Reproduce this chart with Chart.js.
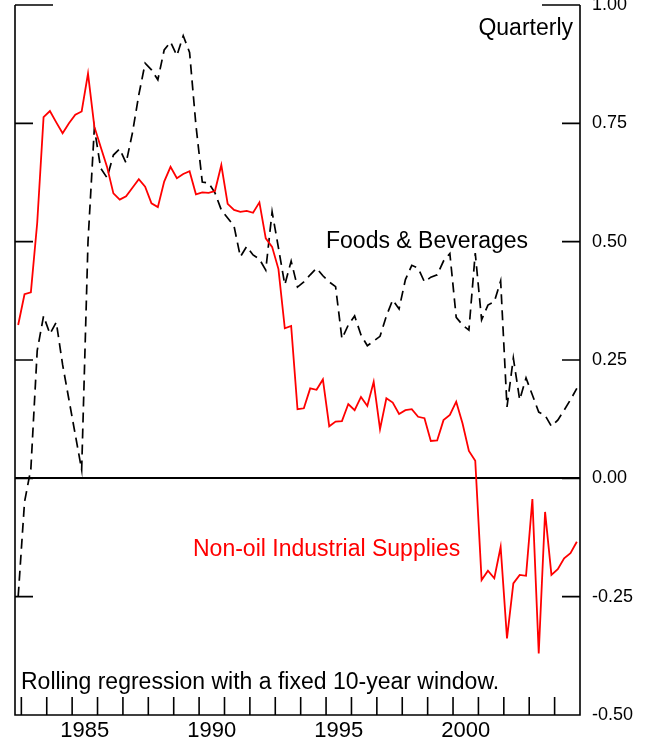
<!DOCTYPE html>
<html><head><meta charset="utf-8">
<script src="https://cdn.jsdelivr.net/npm/chart.js@4"></script>
<style>html,body{margin:0;padding:0;background:#fff;overflow:hidden}canvas{display:block}</style>
</head><body>
<canvas id="c" width="653" height="745"></canvas>
<script>
// Quarterly observations 1982Q4 .. 2004Q4
const quarters = [];
for (let y = 1982; y <= 2004; y++) for (let q = 1; q <= 4; q++) { if (y === 1982 && q < 4) continue; quarters.push(y + 'Q' + q); }

const nonOilIndustrialSupplies = [
 0.324,0.389,0.393,0.54,0.763,0.776,0.752,0.729,0.75,0.768,
 0.775,0.855,0.743,0.70,0.658,0.602,0.589,0.596,0.614,0.632,
 0.616,0.581,0.573,0.627,0.658,0.634,0.643,0.649,0.600,0.604,
 0.603,0.607,0.662,0.580,0.567,0.563,0.565,0.561,0.583,0.507,
 0.489,0.442,0.317,0.322,0.146,0.148,0.190,0.187,0.209,0.110,
 0.120,0.121,0.157,0.144,0.172,0.153,0.204,0.104,0.169,0.160,
 0.136,0.144,0.146,0.130,0.127,0.079,0.080,0.123,0.134,0.162,
 0.116,0.058,0.037,-0.215,-0.195,-0.211,-0.145,-0.338,-0.222,-0.204,
 -0.206,-0.044,-0.370,-0.071,-0.204,-0.192,-0.169,-0.158,-0.134
];
const foodsBeverages = [
 -0.25,-0.05,0.02,0.27,0.343,0.305,0.33,0.24,0.166,0.092,
 0.018,0.50,0.74,0.655,0.635,0.683,0.696,0.666,0.73,0.81,
 0.877,0.863,0.842,0.905,0.922,0.893,0.935,0.90,0.746,0.626,
 0.624,0.603,0.567,0.55,0.533,0.468,0.49,0.472,0.463,0.44,
 0.563,0.487,0.409,0.459,0.404,0.415,0.43,0.444,0.428,0.415,
 0.405,0.295,0.324,0.343,0.303,0.28,0.29,0.30,0.343,0.377,
 0.358,0.42,0.45,0.444,0.415,0.425,0.43,0.459,0.475,0.34,
 0.324,0.313,0.476,0.335,0.366,0.373,0.417,0.151,0.254,0.166,
 0.212,0.176,0.14,0.133,0.11,0.123,0.144,0.166,0.19
];
const yTickValues = [-0.5, -0.25, 0, 0.25, 0.5, 0.75, 1.0];
const yearLabels = [1985, 1990, 1995, 2000];
const yearTicks = [1983,1984,1985,1986,1987,1988,1989,1990,1991,1992,1993,1994,1995,1996,1997,1998,1999,2000,2001,2002,2003,2004];

function quarterToTime(s) { const y = +s.slice(0,4), q = +s.slice(5); return y + (q - 0.5) / 4; }
const times = quarters.map(quarterToTime);
const toPoints = arr => arr.map((v, i) => ({ x: times[i], y: v }));

const FONT = '"Liberation Sans", Arial, Helvetica, sans-serif';

const framePlugin = {
  id: 'frame',
  beforeDatasetsDraw(chart) {
    const { ctx, chartArea: a, scales: { x, y } } = chart;
    ctx.save();
    ctx.strokeStyle = '#000';
    ctx.lineWidth = 2;
    const y0 = Math.round(y.getPixelForValue(0));
    ctx.beginPath(); ctx.moveTo(a.left, y0); ctx.lineTo(a.right, y0); ctx.stroke();
    ctx.restore();
  },
  afterDatasetsDraw(chart) {
    const { ctx, chartArea: a, scales: { x, y } } = chart;
    ctx.save();
    ctx.strokeStyle = '#000';
    ctx.lineWidth = 1.6;
    ctx.beginPath();
    ctx.moveTo(a.left, a.top); ctx.lineTo(a.left, a.bottom); ctx.lineTo(a.right, a.bottom); ctx.lineTo(a.right, a.top);
    ctx.stroke();
    // y ticks (inward, both sides)
    yTickValues.forEach(v => {
      if (v === -0.5) return;
      const py = y.getPixelForValue(v);
      const len = v === 1.0 ? 38 : 18;
      ctx.beginPath();
      ctx.moveTo(a.left, py); ctx.lineTo(a.left + len, py);
      ctx.moveTo(a.right, py); ctx.lineTo(a.right - len, py);
      ctx.stroke();
    });
    // x ticks (inward)
    yearTicks.forEach(t => {
      const px = x.getPixelForValue(t);
      ctx.beginPath(); ctx.moveTo(px, a.bottom); ctx.lineTo(px, a.bottom - 18); ctx.stroke();
    });
    // annotations
    ctx.font = '23px ' + FONT;
    ctx.textBaseline = 'alphabetic';
    ctx.fillStyle = '#000';
    ctx.textAlign = 'right';
    ctx.fillText('Quarterly', 573, 35);
    ctx.textAlign = 'left';
    ctx.fillText('Foods & Beverages', 326, 248);
    ctx.fillText('Rolling regression with a fixed 10-year window.', 21, 689);
    ctx.fillStyle = '#ff0000';
    ctx.fillText('Non-oil Industrial Supplies', 193, 556);
    ctx.restore();
  }
};

new Chart(document.getElementById('c'), {
  type: 'line',
  data: {
    datasets: [
      { label: 'Non-oil Industrial Supplies', data: toPoints(nonOilIndustrialSupplies), borderColor: '#ff0000', borderWidth: 1.8, pointRadius: 0, tension: 0, fill: false },
      { label: 'Foods & Beverages', data: toPoints(foodsBeverages), borderColor: '#000000', borderWidth: 1.7, borderDash: [10, 6], pointRadius: 0, tension: 0, fill: false }
    ]
  },
  options: {
    responsive: false,
    devicePixelRatio: 1,
    animation: false,
    layout: { padding: { left: 15, top: 5, right: 0, bottom: 0 } },
    plugins: { legend: { display: false }, tooltip: { enabled: false } },
    scales: {
      x: {
        type: 'linear', position: 'bottom', min: 1982.75, max: 2005,
        grid: { display: false, drawTicks: false }, border: { display: false },
        afterBuildTicks: s => { s.ticks = yearLabels.map(v => ({ value: v + 0.5 })); },
        ticks: { padding: 3, color: '#000', font: { size: 22, family: FONT }, maxRotation: 0, autoSkip: false,
                 callback: v => String(Math.floor(v)) },
        afterFit: s => { s.height = 30; s.paddingLeft = 0; s.paddingRight = 0; }
      },
      y: {
        type: 'linear', position: 'right', min: -0.5, max: 1.0,
        grid: { display: false, drawTicks: false }, border: { display: false },
        afterBuildTicks: s => { s.ticks = yTickValues.map(v => ({ value: v })); },
        ticks: { padding: 12, color: '#000', font: { size: 18, family: FONT }, autoSkip: false,
                 callback: v => v.toFixed(2) },
        afterFit: s => { s.width = 73; s.paddingTop = 0; s.paddingBottom = 0; }
      }
    }
  },
  plugins: [framePlugin]
});
</script>
</body></html>
